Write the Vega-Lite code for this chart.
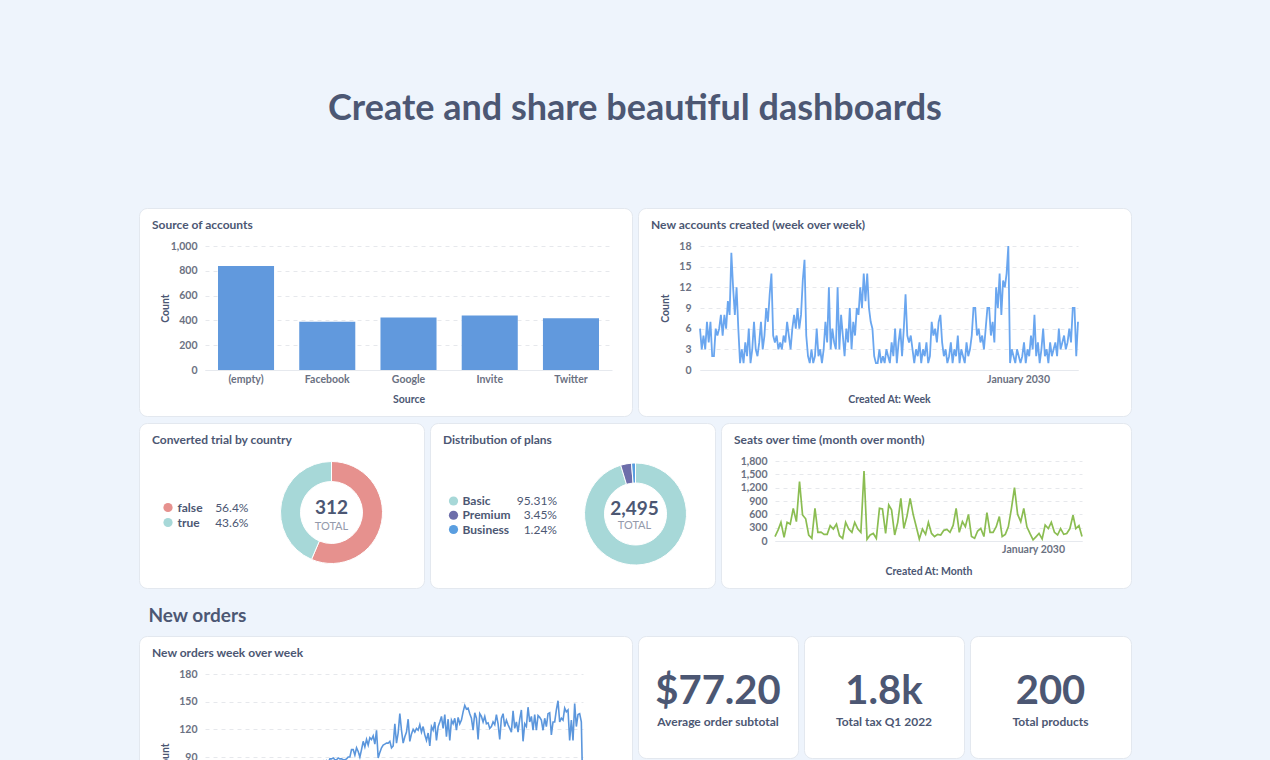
{
  "$schema": "https://vega.github.io/schema/vega-lite/v6.json",
  "background": "#eef4fc",
  "padding": {"left": 138, "right": 140, "top": 90, "bottom": 0},
  "autosize": {"type": "pad"},
  "title": {"text": "Create and share beautiful dashboards", "fontSize": 36, "fontWeight": 700, "color": "#4c5773", "anchor": "middle", "frame": "bounds", "baseline": "alphabetic", "offset": 52, "dx": 0, "dy": 0},
  "config": {
    "font": "Lato",
    "view": {"stroke": null},
    "axis": {
      "labelFont": "Lato", "labelFontSize": 10.5, "labelFontWeight": 700, "labelColor": "#6b7182",
      "titleFont": "Lato", "titleFontSize": 10.5, "titleFontWeight": 700, "titleColor": "#4c5773",
      "ticks": false, "tickSize": 0, "domain": false, "domainColor": "#e6e9ee", "grid": false,
      "gridColor": "#e6e8ec", "gridDash": [4, 4]
    },
    "title": {"font": "Lato", "fontSize": 12, "fontWeight": 700, "color": "#4c5773", "anchor": "start", "frame": "group", "baseline": "alphabetic", "offset": 0, "dx": 13, "dy": 28}
  },
  "datasets": {
    "accounts": [
      {"t":"2023-01-02","n":6},{"t":"2023-01-16","n":3},{"t":"2023-01-30","n":5},{"t":"2023-02-13","n":3},{"t":"2023-02-27","n":7},{"t":"2023-03-13","n":4},{"t":"2023-03-27","n":7},{"t":"2023-04-10","n":2},{"t":"2023-04-24","n":2},{"t":"2023-05-08","n":6},{"t":"2023-05-22","n":5},{"t":"2023-06-05","n":6},{"t":"2023-06-19","n":8},{"t":"2023-07-03","n":5},{"t":"2023-07-17","n":8},{"t":"2023-07-31","n":6},{"t":"2023-08-14","n":10},{"t":"2023-08-28","n":8},{"t":"2023-09-11","n":17},{"t":"2023-09-25","n":12},{"t":"2023-10-09","n":8},{"t":"2023-10-23","n":12},{"t":"2023-11-06","n":6},{"t":"2023-11-20","n":1},{"t":"2023-12-04","n":3},{"t":"2023-12-18","n":1},
      {"t":"2024-01-01","n":4},{"t":"2024-01-15","n":2},{"t":"2024-01-29","n":6},{"t":"2024-02-12","n":1},{"t":"2024-02-26","n":3},{"t":"2024-03-11","n":7},{"t":"2024-03-25","n":3},{"t":"2024-04-08","n":2},{"t":"2024-04-22","n":4},{"t":"2024-05-06","n":7},{"t":"2024-05-20","n":3},{"t":"2024-06-03","n":5},{"t":"2024-06-17","n":9},{"t":"2024-07-01","n":7},{"t":"2024-07-15","n":11},{"t":"2024-07-29","n":14},{"t":"2024-08-12","n":5},{"t":"2024-08-26","n":4},{"t":"2024-09-09","n":5},{"t":"2024-09-23","n":3},{"t":"2024-10-07","n":4},{"t":"2024-10-21","n":3},{"t":"2024-11-04","n":5},{"t":"2024-11-18","n":4},{"t":"2024-12-02","n":7},{"t":"2024-12-16","n":5},{"t":"2024-12-30","n":3},
      {"t":"2025-01-13","n":6},{"t":"2025-01-27","n":8},{"t":"2025-02-10","n":6},{"t":"2025-02-24","n":9},{"t":"2025-03-10","n":6},{"t":"2025-03-24","n":8},{"t":"2025-04-07","n":13},{"t":"2025-04-21","n":16},{"t":"2025-05-05","n":5},{"t":"2025-05-19","n":2},{"t":"2025-06-02","n":1},{"t":"2025-06-16","n":3},{"t":"2025-06-30","n":1},{"t":"2025-07-14","n":2},{"t":"2025-07-28","n":6},{"t":"2025-08-11","n":2},{"t":"2025-08-25","n":3},{"t":"2025-09-08","n":1},{"t":"2025-09-22","n":3},{"t":"2025-10-06","n":7},{"t":"2025-10-20","n":4},{"t":"2025-11-03","n":12},{"t":"2025-11-17","n":3},{"t":"2025-12-01","n":6},{"t":"2025-12-15","n":4},{"t":"2025-12-29","n":3},
      {"t":"2026-01-12","n":12},{"t":"2026-01-26","n":3},{"t":"2026-02-09","n":8},{"t":"2026-02-23","n":5},{"t":"2026-03-09","n":2},{"t":"2026-03-23","n":6},{"t":"2026-04-06","n":4},{"t":"2026-04-20","n":9},{"t":"2026-05-04","n":3},{"t":"2026-05-18","n":7},{"t":"2026-06-01","n":5},{"t":"2026-06-15","n":9},{"t":"2026-06-29","n":8},{"t":"2026-07-13","n":12},{"t":"2026-07-27","n":9},{"t":"2026-08-10","n":14},{"t":"2026-08-24","n":10},{"t":"2026-09-07","n":14},{"t":"2026-09-21","n":9},{"t":"2026-10-05","n":7},{"t":"2026-10-19","n":6},{"t":"2026-11-02","n":2},{"t":"2026-11-16","n":1},{"t":"2026-11-30","n":1},{"t":"2026-12-14","n":3},{"t":"2026-12-28","n":1},
      {"t":"2027-01-11","n":2},{"t":"2027-01-25","n":1},{"t":"2027-02-08","n":3},{"t":"2027-02-22","n":2},{"t":"2027-03-08","n":1},{"t":"2027-03-22","n":4},{"t":"2027-04-05","n":2},{"t":"2027-04-19","n":6},{"t":"2027-05-03","n":1},{"t":"2027-05-17","n":4},{"t":"2027-05-31","n":6},{"t":"2027-06-14","n":2},{"t":"2027-06-28","n":6},{"t":"2027-07-12","n":11},{"t":"2027-07-26","n":5},{"t":"2027-08-09","n":4},{"t":"2027-08-23","n":5},{"t":"2027-09-06","n":3},{"t":"2027-09-20","n":1},{"t":"2027-10-04","n":3},{"t":"2027-10-18","n":2},{"t":"2027-11-01","n":4},{"t":"2027-11-15","n":1},{"t":"2027-11-29","n":3},{"t":"2027-12-13","n":2},{"t":"2027-12-27","n":4},
      {"t":"2028-01-10","n":1},{"t":"2028-01-24","n":2},{"t":"2028-02-07","n":7},{"t":"2028-02-21","n":5},{"t":"2028-03-06","n":6},{"t":"2028-03-20","n":4},{"t":"2028-04-03","n":7},{"t":"2028-04-17","n":8},{"t":"2028-05-01","n":4},{"t":"2028-05-15","n":2},{"t":"2028-05-29","n":3},{"t":"2028-06-12","n":1},{"t":"2028-06-26","n":2},{"t":"2028-07-10","n":4},{"t":"2028-07-24","n":1},{"t":"2028-08-07","n":3},{"t":"2028-08-21","n":2},{"t":"2028-09-04","n":5},{"t":"2028-09-18","n":1},{"t":"2028-10-02","n":3},{"t":"2028-10-16","n":2},{"t":"2028-10-30","n":1},{"t":"2028-11-13","n":4},{"t":"2028-11-27","n":2},{"t":"2028-12-11","n":3},{"t":"2028-12-25","n":5},
      {"t":"2029-01-08","n":9},{"t":"2029-01-22","n":9},{"t":"2029-02-05","n":5},{"t":"2029-02-19","n":6},{"t":"2029-03-05","n":4},{"t":"2029-03-19","n":5},{"t":"2029-04-02","n":3},{"t":"2029-04-16","n":6},{"t":"2029-04-30","n":9},{"t":"2029-05-14","n":9},{"t":"2029-05-28","n":5},{"t":"2029-06-11","n":7},{"t":"2029-06-25","n":4},{"t":"2029-07-09","n":12},{"t":"2029-07-23","n":9},{"t":"2029-08-06","n":14},{"t":"2029-08-20","n":8},{"t":"2029-09-03","n":13},{"t":"2029-09-17","n":12},{"t":"2029-10-01","n":14},{"t":"2029-10-15","n":18},{"t":"2029-10-29","n":1},{"t":"2029-11-12","n":3},{"t":"2029-11-26","n":2},{"t":"2029-12-10","n":1},{"t":"2029-12-24","n":3},
      {"t":"2030-01-07","n":2},{"t":"2030-01-21","n":1},{"t":"2030-02-04","n":2},{"t":"2030-02-18","n":4},{"t":"2030-03-04","n":1},{"t":"2030-03-18","n":3},{"t":"2030-04-01","n":2},{"t":"2030-04-15","n":5},{"t":"2030-04-29","n":3},{"t":"2030-05-13","n":8},{"t":"2030-05-27","n":2},{"t":"2030-06-10","n":4},{"t":"2030-06-24","n":1},{"t":"2030-07-08","n":3},{"t":"2030-07-22","n":6},{"t":"2030-08-05","n":2},{"t":"2030-08-19","n":3},{"t":"2030-09-02","n":1},{"t":"2030-09-16","n":4},{"t":"2030-09-30","n":2},{"t":"2030-10-14","n":3},{"t":"2030-10-28","n":4},{"t":"2030-11-11","n":2},{"t":"2030-11-25","n":6},{"t":"2030-12-09","n":3},{"t":"2030-12-23","n":4},
      {"t":"2031-01-06","n":5},{"t":"2031-01-20","n":3},{"t":"2031-02-03","n":4},{"t":"2031-02-17","n":6},{"t":"2031-03-03","n":4},{"t":"2031-03-17","n":9},{"t":"2031-03-31","n":9},{"t":"2031-04-14","n":2},{"t":"2031-04-28","n":7}
    ],
    "seats": [
      {"m":"2023-01-01","s":100},{"m":"2023-02-01","s":250},{"m":"2023-03-01","s":420},{"m":"2023-04-01","s":80},{"m":"2023-05-01","s":420},{"m":"2023-06-01","s":380},{"m":"2023-07-01","s":735},{"m":"2023-08-01","s":435},{"m":"2023-09-01","s":1335},{"m":"2023-10-01","s":585},{"m":"2023-11-01","s":500},{"m":"2023-12-01","s":135},
      {"m":"2024-01-01","s":60},{"m":"2024-02-01","s":735},{"m":"2024-03-01","s":195},{"m":"2024-04-01","s":200},{"m":"2024-05-01","s":150},{"m":"2024-06-01","s":150},{"m":"2024-07-01","s":345},{"m":"2024-08-01","s":270},{"m":"2024-09-01","s":380},{"m":"2024-10-01","s":120},{"m":"2024-11-01","s":60},{"m":"2024-12-01","s":420},
      {"m":"2025-01-01","s":270},{"m":"2025-02-01","s":195},{"m":"2025-03-01","s":420},{"m":"2025-04-01","s":270},{"m":"2025-05-01","s":195},{"m":"2025-06-01","s":1575},{"m":"2025-07-01","s":40},{"m":"2025-08-01","s":135},{"m":"2025-09-01","s":170},{"m":"2025-10-01","s":60},{"m":"2025-11-01","s":735},{"m":"2025-12-01","s":720},
      {"m":"2026-01-01","s":170},{"m":"2026-02-01","s":810},{"m":"2026-03-01","s":700},{"m":"2026-04-01","s":135},{"m":"2026-05-01","s":420},{"m":"2026-06-01","s":960},{"m":"2026-07-01","s":285},{"m":"2026-08-01","s":560},{"m":"2026-09-01","s":960},{"m":"2026-10-01","s":600},{"m":"2026-11-01","s":320},{"m":"2026-12-01","s":45},
      {"m":"2027-01-01","s":270},{"m":"2027-02-01","s":150},{"m":"2027-03-01","s":420},{"m":"2027-04-01","s":170},{"m":"2027-05-01","s":100},{"m":"2027-06-01","s":150},{"m":"2027-07-01","s":135},{"m":"2027-08-01","s":240},{"m":"2027-09-01","s":260},{"m":"2027-10-01","s":195},{"m":"2027-11-01","s":350},{"m":"2027-12-01","s":735},
      {"m":"2028-01-01","s":195},{"m":"2028-02-01","s":435},{"m":"2028-03-01","s":320},{"m":"2028-04-01","s":600},{"m":"2028-05-01","s":100},{"m":"2028-06-01","s":60},{"m":"2028-07-01","s":225},{"m":"2028-08-01","s":285},{"m":"2028-09-01","s":100},{"m":"2028-10-01","s":640},{"m":"2028-11-01","s":195},{"m":"2028-12-01","s":195},
      {"m":"2029-01-01","s":320},{"m":"2029-02-01","s":550},{"m":"2029-03-01","s":100},{"m":"2029-04-01","s":150},{"m":"2029-05-01","s":320},{"m":"2029-06-01","s":735},{"m":"2029-07-01","s":1200},{"m":"2029-08-01","s":600},{"m":"2029-09-01","s":435},{"m":"2029-10-01","s":735},{"m":"2029-11-01","s":320},{"m":"2029-12-01","s":170},
      {"m":"2030-01-01","s":25},{"m":"2030-02-01","s":100},{"m":"2030-03-01","s":170},{"m":"2030-04-01","s":45},{"m":"2030-05-01","s":360},{"m":"2030-06-01","s":280},{"m":"2030-07-01","s":420},{"m":"2030-08-01","s":195},{"m":"2030-09-01","s":135},{"m":"2030-10-01","s":280},{"m":"2030-11-01","s":150},{"m":"2030-12-01","s":170},
      {"m":"2031-01-01","s":280},{"m":"2031-02-01","s":580},{"m":"2031-03-01","s":280},{"m":"2031-04-01","s":345},{"m":"2031-05-01","s":100}
    ],
    "orders": [
      {"w":1,"o":12},{"w":2,"o":9},{"w":3,"o":16},{"w":4,"o":11},{"w":5,"o":14},{"w":6,"o":19},{"w":7,"o":13},{"w":8,"o":21},{"w":9,"o":16},{"w":10,"o":23},
      {"w":11,"o":18},{"w":12,"o":26},{"w":13,"o":20},{"w":14,"o":28},{"w":15,"o":23},{"w":16,"o":31},{"w":17,"o":25},{"w":18,"o":30},{"w":19,"o":27},{"w":20,"o":35},
      {"w":21,"o":29},{"w":22,"o":37},{"w":23,"o":32},{"w":24,"o":39},{"w":25,"o":34},{"w":26,"o":41},{"w":27,"o":36},{"w":28,"o":43},{"w":29,"o":38},{"w":30,"o":46},
      {"w":31,"o":40},{"w":32,"o":48},{"w":33,"o":43},{"w":34,"o":50},{"w":35,"o":45},{"w":36,"o":53},{"w":37,"o":47},{"w":38,"o":55},{"w":39,"o":50},{"w":40,"o":57},
      {"w":41,"o":52},{"w":42,"o":59},{"w":43,"o":54},{"w":44,"o":61},{"w":45,"o":56},{"w":46,"o":63},{"w":47,"o":58},{"w":48,"o":65},{"w":49,"o":60},{"w":50,"o":67},
      {"w":51,"o":62},{"w":52,"o":69},{"w":53,"o":64},{"w":54,"o":71},{"w":55,"o":66},{"w":56,"o":73},{"w":57,"o":68},{"w":58,"o":75},{"w":59,"o":70},{"w":60,"o":76},
      {"w":61,"o":72},{"w":62,"o":78},{"w":63,"o":74},{"w":64,"o":80},{"w":65,"o":75},{"w":66,"o":81},{"w":67,"o":77},{"w":68,"o":83},{"w":69,"o":78},{"w":70,"o":84},
      {"w":71,"o":80},{"w":72,"o":85},{"w":73,"o":81},{"w":74,"o":86},{"w":75,"o":84},
      {"w":76,"o":88},{"w":77,"o":88},{"w":78,"o":89},{"w":79,"o":87},{"w":80,"o":87},{"w":81,"o":89},{"w":82,"o":88},{"w":83,"o":88},{"w":84,"o":87},{"w":85,"o":87},{"w":86,"o":88},
      {"w":87,"o":90},{"w":88,"o":90},{"w":89,"o":98},{"w":90,"o":98},{"w":91,"o":92},{"w":92,"o":100},{"w":93,"o":96},{"w":94,"o":90},{"w":95,"o":98},{"w":96,"o":107},
      {"w":97,"o":101},{"w":98,"o":109},{"w":99,"o":103},{"w":100,"o":111},{"w":101,"o":109},{"w":102,"o":113},{"w":103,"o":104},{"w":104,"o":119},{"w":105,"o":89},{"w":106,"o":95},
      {"w":107,"o":100},{"w":108,"o":103},{"w":109,"o":104},{"w":110,"o":105},{"w":111,"o":105},{"w":112,"o":107},{"w":113,"o":100},{"w":114,"o":102},{"w":115,"o":126},{"w":116,"o":105},
      {"w":117,"o":116},{"w":118,"o":137},{"w":119,"o":119},{"w":120,"o":105},{"w":121,"o":112},{"w":122,"o":117},{"w":123,"o":131},{"w":124,"o":107},{"w":125,"o":115},{"w":126,"o":120},
      {"w":127,"o":117},{"w":128,"o":121},{"w":129,"o":119},{"w":130,"o":125},{"w":131,"o":117},{"w":132,"o":123},{"w":133,"o":114},{"w":134,"o":108},{"w":135,"o":116},{"w":136,"o":102},
      {"w":137,"o":123},{"w":138,"o":119},{"w":139,"o":128},{"w":140,"o":108},{"w":141,"o":123},{"w":142,"o":128},{"w":143,"o":134},{"w":144,"o":121},{"w":145,"o":136},{"w":146,"o":112},
      {"w":147,"o":131},{"w":148,"o":108},{"w":149,"o":130},{"w":150,"o":126},{"w":151,"o":132},{"w":152,"o":119},{"w":153,"o":133},{"w":154,"o":126},{"w":155,"o":130},{"w":156,"o":139},
      {"w":157,"o":146},{"w":158,"o":142},{"w":159,"o":143},{"w":160,"o":137},{"w":161,"o":132},{"w":162,"o":119},{"w":163,"o":138},{"w":164,"o":132},{"w":165,"o":109},{"w":166,"o":137},
      {"w":167,"o":134},{"w":168,"o":128},{"w":169,"o":134},{"w":170,"o":126},{"w":171,"o":127},{"w":172,"o":121},{"w":173,"o":123},{"w":174,"o":128},{"w":175,"o":125},{"w":176,"o":136},
      {"w":177,"o":126},{"w":178,"o":109},{"w":179,"o":132},{"w":180,"o":137},{"w":181,"o":123},{"w":182,"o":130},{"w":183,"o":125},{"w":184,"o":121},{"w":185,"o":117},{"w":186,"o":140},
      {"w":187,"o":121},{"w":188,"o":128},{"w":189,"o":117},{"w":190,"o":131},{"w":191,"o":141},{"w":192,"o":107},{"w":193,"o":126},{"w":194,"o":123},{"w":195,"o":144},{"w":196,"o":128},
      {"w":197,"o":134},{"w":198,"o":119},{"w":199,"o":136},{"w":200,"o":119},{"w":201,"o":135},{"w":202,"o":133},{"w":203,"o":130},{"w":204,"o":119},{"w":205,"o":132},{"w":206,"o":123},
      {"w":207,"o":137},{"w":208,"o":138},{"w":209,"o":114},{"w":210,"o":128},{"w":211,"o":128},{"w":212,"o":141},{"w":213,"o":151},{"w":214,"o":128},{"w":215,"o":132},{"w":216,"o":130},
      {"w":217,"o":143},{"w":218,"o":139},{"w":219,"o":141},{"w":220,"o":108},{"w":221,"o":130},{"w":222,"o":108},{"w":223,"o":148},{"w":224,"o":123},{"w":225,"o":136},{"w":226,"o":137},
      {"w":227,"o":128},{"w":228,"o":40}
    ]
  },
  "spacing": 17,
  "vconcat": [
    {
      "spacing": 5,
      "vconcat": [
        {
          "spacing": 4,
          "hconcat": [
            {
              "width": 493, "height": 208,
              "view": {"fill": "#ffffff", "stroke": "#e3e8ef", "cornerRadius": 8},
              "title": {"text": "Source of accounts"},
              "data": {"values": [
                {"source": "(empty)", "count": 838},
                {"source": "Facebook", "count": 390},
                {"source": "Google", "count": 423},
                {"source": "Invite", "count": 439},
                {"source": "Twitter", "count": 418}
              ]},
              "mark": {"type": "bar", "color": "#6199dd"},
              "encoding": {
                "x": {"field": "source", "type": "nominal", "sort": null,
                  "scale": {"range": [66, 473], "paddingInner": 0.31, "paddingOuter": 0.16},
                  "axis": {"title": "Source", "labelAngle": 0, "offset": -46, "labelPadding": 4, "domain": true, "grid": false, "titleY": 29, "titleBaseline": "middle"}},
                "y": {"field": "count", "type": "quantitative",
                  "scale": {"domain": [0, 1000], "range": [162, 38], "nice": false},
                  "axis": {"title": "Count", "values": [0, 200, 400, 600, 800, 1000], "format": ",.0f", "offset": -66, "labelPadding": 8, "grid": true, "titleX": -40, "titleBaseline": "middle"}}
              }
            },
            {
              "width": 493, "height": 208,
              "view": {"fill": "#ffffff", "stroke": "#e3e8ef", "cornerRadius": 8},
              "title": {"text": "New accounts created (week over week)"},
              "data": {"name": "accounts"},
              "mark": {"type": "line", "color": "#6aa6ef", "strokeWidth": 1.8},
              "encoding": {
                "x": {"field": "t", "type": "temporal",
                  "scale": {"range": [62, 440], "nice": false},
                  "axis": {"title": "Created At: Week", "values": [{"year": 2030, "month": 1, "date": 1}], "format": "%B %Y", "offset": -46, "labelPadding": 4, "domain": true, "grid": false, "titleY": 29, "titleBaseline": "middle"}},
                "y": {"field": "n", "type": "quantitative",
                  "scale": {"domain": [0, 18], "range": [162, 38], "nice": false},
                  "axis": {"title": "Count", "values": [0, 3, 6, 9, 12, 15, 18], "format": "d", "offset": -62, "labelPadding": 9, "grid": true, "titleX": -35, "titleBaseline": "middle"}}
              }
            }
          ]
        },
        {
          "spacing": 4,
          "resolve": {"scale": {"color": "independent"}},
          "hconcat": [
            {
              "width": 285, "height": 165,
              "view": {"fill": "#ffffff", "stroke": "#e3e8ef", "cornerRadius": 8},
              "title": {"text": "Converted trial by country"},
              "data": {"values": [
                {"converted": "false", "n": 176, "share": 0.564},
                {"converted": "true", "n": 136, "share": 0.436}
              ]},
              "layer": [
                {
                  "mark": {"type": "arc", "innerRadius": 31, "outerRadius": 51, "xOffset": 50, "yOffset": 7, "stroke": "#ffffff", "strokeWidth": 1},
                  "encoding": {
                    "theta": {"field": "n", "type": "quantitative"},
                    "order": {"field": "n", "sort": "descending"},
                    "color": {"field": "converted", "type": "nominal", "scale": {"domain": ["false", "true"], "range": ["#e6918e", "#a7d8d8"]}, "legend": null}
                  }
                },
                {
                  "mark": {"type": "circle", "size": 85, "opacity": 1, "xOffset": -113.5},
                  "encoding": {
                    "y": {"field": "converted", "type": "nominal", "sort": ["false", "true"], "scale": {"type": "point", "range": [84.5, 99.5], "padding": 0}, "axis": null},
                    "color": {"field": "converted", "type": "nominal", "scale": {"domain": ["false", "true"], "range": ["#e6918e", "#a7d8d8"]}, "legend": null}
                  }
                },
                {
                  "mark": {"type": "text", "align": "left", "baseline": "middle", "dx": -104, "fontSize": 12, "fontWeight": 700, "color": "#4c5773"},
                  "encoding": {
                    "y": {"field": "converted", "type": "nominal", "sort": ["false", "true"], "scale": {"type": "point", "range": [84.5, 99.5], "padding": 0}, "axis": null},
                    "text": {"field": "converted", "type": "nominal"}
                  }
                },
                {
                  "mark": {"type": "text", "align": "right", "baseline": "middle", "dx": -33, "fontSize": 12, "fontWeight": 400, "color": "#4c5773"},
                  "encoding": {
                    "y": {"field": "converted", "type": "nominal", "sort": ["false", "true"], "scale": {"type": "point", "range": [84.5, 99.5], "padding": 0}, "axis": null},
                    "text": {"field": "share", "type": "quantitative", "format": ".1%"}
                  }
                },
                {
                  "transform": [{"aggregate": [{"op": "sum", "field": "n", "as": "total"}]}],
                  "mark": {"type": "text", "baseline": "alphabetic", "dx": 50, "dy": 8.5, "fontSize": 19, "fontWeight": 700, "color": "#4c5773"},
                  "encoding": {"text": {"field": "total", "type": "quantitative", "format": ","}}
                },
                {
                  "transform": [{"aggregate": [{"op": "sum", "field": "n", "as": "total"}]}],
                  "mark": {"type": "text", "text": "TOTAL", "baseline": "alphabetic", "dx": 50, "dy": 24, "fontSize": 11, "fontWeight": 400, "color": "#949aab"},
                  "encoding": {}
                }
              ]
            },
            {
              "width": 285, "height": 165,
              "view": {"fill": "#ffffff", "stroke": "#e3e8ef", "cornerRadius": 8},
              "title": {"text": "Distribution of plans"},
              "data": {"values": [
                {"plan": "Basic", "n": 2378, "share": 0.9531},
                {"plan": "Premium", "n": 86, "share": 0.0345},
                {"plan": "Business", "n": 31, "share": 0.0124}
              ]},
              "layer": [
                {
                  "mark": {"type": "arc", "innerRadius": 31, "outerRadius": 51, "xOffset": 63, "yOffset": 8.5, "stroke": "#ffffff", "strokeWidth": 1},
                  "encoding": {
                    "theta": {"field": "n", "type": "quantitative"},
                    "order": {"field": "n", "sort": "descending"},
                    "color": {"field": "plan", "type": "nominal", "scale": {"domain": ["Basic", "Premium", "Business"], "range": ["#a7d8d8", "#6d6eaa", "#5a9ee0"]}, "legend": null}
                  }
                },
                {
                  "mark": {"type": "circle", "size": 85, "opacity": 1, "xOffset": -119},
                  "encoding": {
                    "y": {"field": "plan", "type": "nominal", "sort": ["Basic", "Premium", "Business"], "scale": {"type": "point", "range": [78, 106.5], "padding": 0}, "axis": null},
                    "color": {"field": "plan", "type": "nominal", "scale": {"domain": ["Basic", "Premium", "Business"], "range": ["#a7d8d8", "#6d6eaa", "#5a9ee0"]}, "legend": null}
                  }
                },
                {
                  "mark": {"type": "text", "align": "left", "baseline": "middle", "dx": -110, "fontSize": 12, "fontWeight": 700, "color": "#4c5773"},
                  "encoding": {
                    "y": {"field": "plan", "type": "nominal", "sort": ["Basic", "Premium", "Business"], "scale": {"type": "point", "range": [78, 106.5], "padding": 0}, "axis": null},
                    "text": {"field": "plan", "type": "nominal"}
                  }
                },
                {
                  "mark": {"type": "text", "align": "right", "baseline": "middle", "dx": -15.5, "fontSize": 12, "fontWeight": 400, "color": "#4c5773"},
                  "encoding": {
                    "y": {"field": "plan", "type": "nominal", "sort": ["Basic", "Premium", "Business"], "scale": {"type": "point", "range": [78, 106.5], "padding": 0}, "axis": null},
                    "text": {"field": "share", "type": "quantitative", "format": ".2%"}
                  }
                },
                {
                  "transform": [{"aggregate": [{"op": "sum", "field": "n", "as": "total"}]}],
                  "mark": {"type": "text", "baseline": "alphabetic", "dx": 62, "dy": 9.5, "fontSize": 19, "fontWeight": 700, "color": "#4c5773"},
                  "encoding": {"text": {"field": "total", "type": "quantitative", "format": ","}}
                },
                {
                  "transform": [{"aggregate": [{"op": "sum", "field": "n", "as": "total"}]}],
                  "mark": {"type": "text", "text": "TOTAL", "baseline": "alphabetic", "dx": 62, "dy": 23.5, "fontSize": 11, "fontWeight": 400, "color": "#949aab"},
                  "encoding": {}
                }
              ]
            },
            {
              "width": 410, "height": 165,
              "view": {"fill": "#ffffff", "stroke": "#e3e8ef", "cornerRadius": 8},
              "title": {"text": "Seats over time (month over month)"},
              "data": {"name": "seats"},
              "mark": {"type": "line", "color": "#8bbd52", "strokeWidth": 1.7},
              "encoding": {
                "x": {"field": "m", "type": "temporal",
                  "scale": {"range": [54, 361], "nice": false},
                  "axis": {"title": "Created At: Month", "values": [{"year": 2030, "month": 1, "date": 1}], "format": "%B %Y", "offset": -47, "labelPadding": 3.5, "domain": true, "grid": false, "titleY": 30, "titleBaseline": "middle"}},
                "y": {"field": "s", "type": "quantitative",
                  "scale": {"domain": [0, 1800], "range": [118, 38], "nice": false},
                  "axis": {"title": null, "values": [0, 300, 600, 900, 1200, 1500, 1800], "format": ",.0f", "offset": -54, "labelPadding": 8, "grid": true}}
              }
            }
          ]
        }
      ]
    },
    {
      "title": {"text": "New orders", "fontSize": 19, "fontWeight": 700, "color": "#4c5773", "anchor": "start", "frame": "bounds", "baseline": "alphabetic", "offset": -5, "dx": 10, "dy": 0},
      "spacing": 4,
      "hconcat": [
        {
          "width": 493, "height": 260,
          "view": {"fill": "#ffffff", "stroke": "#e3e8ef", "cornerRadius": 8},
          "title": {"text": "New orders week over week"},
          "data": {"name": "orders"},
          "mark": {"type": "line", "color": "#5b96dc", "strokeWidth": 1.6},
          "encoding": {
            "x": {"field": "w", "type": "quantitative",
              "scale": {"domain": [1, 228], "range": [66, 444], "nice": false, "zero": false},
              "axis": {"title": "Created At: Week", "labels": false, "offset": -56, "domain": true, "grid": false, "titleY": 29, "titleBaseline": "middle"}},
            "y": {"field": "o", "type": "quantitative",
              "scale": {"domain": [0, 180], "range": [204, 38], "nice": false},
              "axis": {"title": "Count", "values": [0, 30, 60, 90, 120, 150, 180], "format": "d", "offset": -66, "labelPadding": 8, "grid": true, "titleX": -40, "titleBaseline": "middle"}}
          }
        },
        {
          "width": 160, "height": 122,
          "view": {"fill": "#ffffff", "stroke": "#e3e8ef", "cornerRadius": 8},
          "data": {"values": [{"metric": 77.2, "label": "Average order subtotal"}]},
          "layer": [
            {"mark": {"type": "text", "baseline": "alphabetic", "dy": 7, "fontSize": 40, "fontWeight": 700, "color": "#4c5773"},
             "encoding": {"text": {"field": "metric", "type": "quantitative", "format": "$.2f"}}},
            {"mark": {"type": "text", "baseline": "alphabetic", "dy": 29, "fontSize": 12, "fontWeight": 700, "color": "#4c5773"},
             "encoding": {"text": {"field": "label", "type": "nominal"}}}
          ]
        },
        {
          "width": 160, "height": 122,
          "view": {"fill": "#ffffff", "stroke": "#e3e8ef", "cornerRadius": 8},
          "data": {"values": [{"metric": 1800, "label": "Total tax Q1 2022"}]},
          "layer": [
            {"mark": {"type": "text", "baseline": "alphabetic", "dy": 7, "fontSize": 40, "fontWeight": 700, "color": "#4c5773"},
             "encoding": {"text": {"field": "metric", "type": "quantitative", "format": ".2s"}}},
            {"mark": {"type": "text", "baseline": "alphabetic", "dy": 29, "fontSize": 12, "fontWeight": 700, "color": "#4c5773"},
             "encoding": {"text": {"field": "label", "type": "nominal"}}}
          ]
        },
        {
          "width": 161, "height": 122,
          "view": {"fill": "#ffffff", "stroke": "#e3e8ef", "cornerRadius": 8},
          "data": {"values": [{"metric": 200, "label": "Total products"}]},
          "layer": [
            {"mark": {"type": "text", "baseline": "alphabetic", "dy": 7, "fontSize": 40, "fontWeight": 700, "color": "#4c5773"},
             "encoding": {"text": {"field": "metric", "type": "quantitative", "format": "d"}}},
            {"mark": {"type": "text", "baseline": "alphabetic", "dy": 29, "fontSize": 12, "fontWeight": 700, "color": "#4c5773"},
             "encoding": {"text": {"field": "label", "type": "nominal"}}}
          ]
        }
      ]
    }
  ]
}
